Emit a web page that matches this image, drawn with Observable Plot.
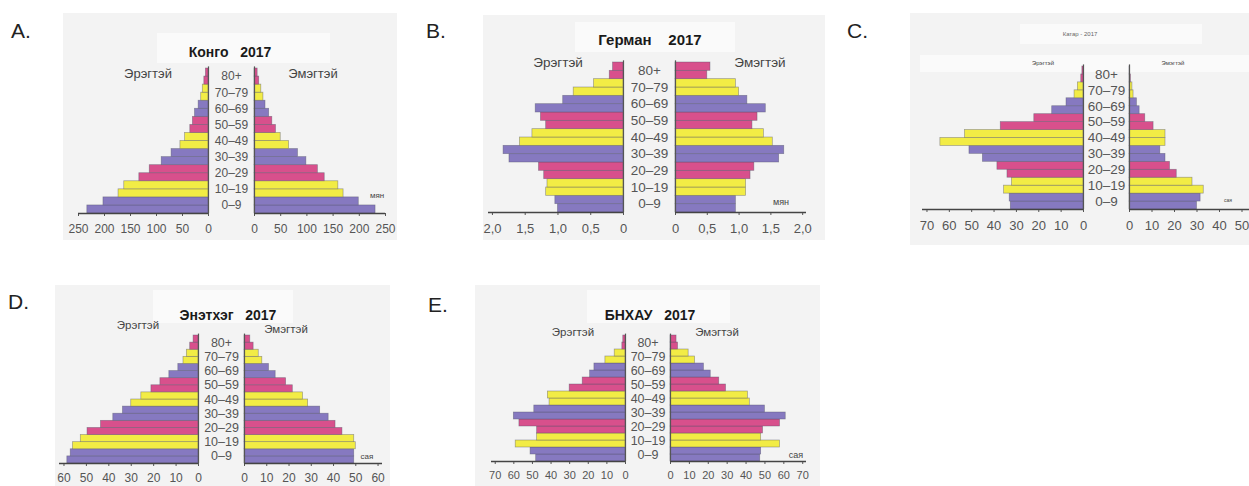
<!DOCTYPE html>
<html><head><meta charset="utf-8">
<script src="https://cdn.jsdelivr.net/npm/d3@7"></script>
<script src="https://cdn.jsdelivr.net/npm/@observablehq/plot@0.6"></script>
<style>
body{margin:0;background:#fff;font-family:"Liberation Sans",Arial,sans-serif;}
#root{position:relative;width:1249px;height:486px;overflow:hidden;background:#fff;}
.panel{position:absolute;background:#f3f3f3;}
.box{position:absolute;background:#fafafa;}
.letter{position:absolute;font-size:21px;line-height:1;color:#222;}
.title{position:absolute;font-weight:bold;color:#1a1a1a;white-space:pre;transform:translate(-50%,-50%);line-height:1;}
.lab{position:absolute;color:#444;white-space:pre;transform:translate(-50%,-50%);line-height:1;}
.plot{position:absolute;overflow:visible;}
</style></head><body><div id="root"></div>
<script>
// ---- data (bars from youngest to oldest) ----
const ages = ["0–4","5–9","10–14","15–19","20–24","25–29","30–34","35–39","40–44","45–49","50–54","55–59","60–64","65–69","70–74","75–79","80–84","85+"];
const groups = ["0–9","10–19","20–29","30–39","40–49","50–59","60–69","70–79","80+"];
const groupColors = ["#8679c0","#f2ec45","#d8508c","#8679c0","#f2ec45","#d8508c","#8679c0","#f2ec45","#d8508c"];
const maleLabel = "Эрэгтэй", femaleLabel = "Эмэгтэй";

const congoMale   = [233,202,173,162,133,113,90,71,54,45,35,30,26,19,14,11,8,5];
const congoFemale = [231,199,170,160,134,121,99,83,66,50,41,34,28,21,17,13,9,6];
const congoTicks  = [0,50,100,150,200,250];

const germanyMale   = [1.00,1.04,1.18,1.16,1.21,1.29,1.74,1.83,1.58,1.39,1.18,1.26,1.34,0.92,0.76,0.45,0.21,0.16];
const germanyFemale = [0.95,0.95,1.11,1.11,1.18,1.24,1.63,1.71,1.53,1.39,1.21,1.29,1.42,1.13,1.00,0.95,0.50,0.55];
const germanyTicks  = [0,0.5,1.0,1.5,2.0];

const qatarMale   = [32.5,33,35.5,32,34,38.5,45,51,64,53,37,22,14,7.6,4,2.5,1,0.5];
const qatarFemale = [30,31.6,33,28,21,18,16,13.7,16,16,10.7,7,4.5,3.3,1.8,1.3,0.6,0.3];
const qatarMaleTicks   = [0,10,20,30,40,50,60,70];
const qatarFemaleTicks = [0,10,20,30,40,50];

const indiaMale   = [58.5,57,56,52.5,49.5,43.5,38,33.7,30,25.5,21,17,13,9,6.7,5.2,3.7,2.2];
const indiaFemale = [49.3,49.3,50,49.3,44,40.9,37.8,34,28.6,26.3,21.7,18.7,14,11,8,6.4,4.1,2.6];
const indiaTicks  = [0,10,20,30,40,50,60];

const chinaMale   = [48,51,59,47.5,47.5,57,60,49,40.8,41.7,30,23,19,16.7,10.8,5.8,1.7,1.2];
const chinaFemale = [47.5,48,58,48,49,58,61,50,42,41,29.4,25.8,21.3,17.7,13,9.6,4,3.2];
const chinaTicks  = [0,10,20,30,40,50,60,70];

// ---- layout helpers ----
const root = document.getElementById("root");
function el(cls, text, css) {
  const d = document.createElement("div");
  d.className = cls; d.textContent = text;
  Object.assign(d.style, css);
  root.appendChild(d); return d;
}
function place(svg, left, top) {
  svg.classList.add("plot");
  svg.style.left = left + "px"; svg.style.top = top + "px";
  root.appendChild(svg);
}

function pyramid(p) {
  const rows = ages.map((a, i) => ({age: a, idx: i, group: groups[Math.floor(i / 2)], male: p.male[i], female: p.female[i]}));
  const mt = 3, mb = 30;
  const H = p.bottom - p.top + mt + mb;
  const common = {
    height: H, marginTop: mt, marginBottom: mb,
    y: {domain: [0, 18], axis: null},
    color: {domain: groups, range: groupColors},
    style: {background: "transparent", color: "#555", fontSize: p.tickFont + "px", fontFamily: "Liberation Sans, Arial, sans-serif", overflow: "visible"}
  };
  const barStyle = {fill: "group", stroke: "#55556a", strokeOpacity: 0.55, strokeWidth: 0.7};
  // male half
  const mL = 16, mR = 2;
  const maleW = p.maleRange + mL + mR;
  const male = Plot.plot({
    ...common, width: maleW, marginLeft: mL, marginRight: mR,
    x: {domain: [0, p.maleMax], reverse: true, ticks: p.maleTicks, tickFormat: p.fmt, tickSize: 3, tickPadding: p.pad, label: null},
    marks: [
      Plot.rect(rows, {x1: () => 0, x2: "male", y1: "idx", y2: d => d.idx + 1, ...barStyle}),
      Plot.ruleY([0], {x1: () => 0, x2: () => p.maleMax, stroke: "#444", strokeWidth: 1.6}),
      Plot.ruleX([0], {y1: () => 0, y2: () => 18.2, stroke: "#555", strokeWidth: 1.2})
    ]
  });
  place(male, p.zeroM - (maleW - mR), p.top - mt);
  // female half, age labels in its left margin
  const gap = p.zeroF - p.zeroM;
  const fR = 4;
  const femaleW = p.femaleRange + gap + fR;
  const female = Plot.plot({
    ...common, width: femaleW, marginLeft: gap, marginRight: fR,
    x: {domain: [0, p.femaleMax], ticks: p.femaleTicks, tickFormat: p.fmt, tickSize: 3, tickPadding: p.pad, label: null},
    marks: [
      Plot.rect(rows, {x1: () => 0, x2: "female", y1: "idx", y2: d => d.idx + 1, ...barStyle}),
      Plot.ruleY([0], {x1: () => 0, x2: () => p.femaleMax, stroke: "#444", strokeWidth: 1.6}),
      Plot.ruleX([0], {y1: () => 0, y2: () => 18.2, stroke: "#555", strokeWidth: 1.2}),
      Plot.text(groups, {frameAnchor: "left", y: (d, i) => 2 * i + 1, text: d => d, dx: -gap / 2, textAnchor: "middle", fontSize: p.ageFont, fill: "#555"})
    ]
  });
  place(female, p.zeroM, p.top - mt);
}

const fmtInt = d => String(d);
const fmtComma = d => d === 0 ? "0" : d.toFixed(1).replace(".", ",");

// ---- panels ----
el("panel", "", {left: "63px", top: "13px", width: "334px", height: "227px"});
el("panel", "", {left: "483px", top: "15px", width: "342px", height: "225px"});
el("panel", "", {left: "910px", top: "13px", width: "345px", height: "232px"});
el("panel", "", {left: "55px", top: "285px", width: "335px", height: "210px"});
el("panel", "", {left: "475px", top: "285px", width: "345px", height: "210px"});
el("box", "", {left: "157px", top: "33px", width: "173px", height: "30px"});
el("box", "", {left: "575px", top: "22px", width: "160px", height: "30px"});
el("box", "", {left: "1020px", top: "24px", width: "182px", height: "20px"});
el("box", "", {left: "920px", top: "55px", width: "330px", height: "17px"});
el("box", "", {left: "153px", top: "290px", width: "140px", height: "33px"});
el("box", "", {left: "587px", top: "290px", width: "143px", height: "33px"});

// letters
el("letter", "A.", {left: "11px", top: "20px"});
el("letter", "B.", {left: "426px", top: "20px"});
el("letter", "C.", {left: "847px", top: "20px"});
el("letter", "D.", {left: "8px", top: "291px"});
el("letter", "E.", {left: "428px", top: "294px"});

// titles
el("title", "Конго   2017", {left: "230px", top: "52px", fontSize: "14px"});
el("title", "Герман    2017", {left: "650px", top: "39px", fontSize: "15px"});
el("lab", "Катар - 2017", {left: "1080px", top: "34px", fontSize: "6px", color: "#666"});
el("title", "Энэтхэг   2017", {left: "228px", top: "315px", fontSize: "14px"});
el("title", "БНХАУ   2017", {left: "650px", top: "315px", fontSize: "14px"});

// sex labels
el("lab", maleLabel, {left: "148px", top: "73px", fontSize: "13px"});
el("lab", femaleLabel, {left: "313px", top: "73px", fontSize: "13px"});
el("lab", maleLabel, {left: "558px", top: "63px", fontSize: "13.5px"});
el("lab", femaleLabel, {left: "760px", top: "63px", fontSize: "13.5px"});
el("lab", maleLabel, {left: "1043px", top: "63px", fontSize: "6px"});
el("lab", femaleLabel, {left: "1173px", top: "63px", fontSize: "6px"});
el("lab", maleLabel, {left: "138px", top: "326px", fontSize: "11.5px"});
el("lab", femaleLabel, {left: "286px", top: "330px", fontSize: "11.5px"});
el("lab", maleLabel, {left: "573px", top: "333px", fontSize: "11.5px"});
el("lab", femaleLabel, {left: "717px", top: "333px", fontSize: "11.5px"});

// unit labels
el("lab", "мян", {left: "377px", top: "196px", fontSize: "8px"});
el("lab", "мян", {left: "781px", top: "202px", fontSize: "9px"});
el("lab", "сая", {left: "1228px", top: "200px", fontSize: "5px"});
el("lab", "сая", {left: "367px", top: "457px", fontSize: "8px"});
el("lab", "сая", {left: "796px", top: "455px", fontSize: "9px"});

// ---- pyramids ----
pyramid({male: congoMale, female: congoFemale, zeroM: 208, zeroF: 254, maleRange: 130, femaleRange: 131,
  maleMax: 250, femaleMax: 250, maleTicks: congoTicks, femaleTicks: congoTicks, fmt: fmtInt,
  top: 68, bottom: 213, tickFont: 12, ageFont: 12, pad: 8});
pyramid({male: germanyMale, female: germanyFemale, zeroM: 623, zeroF: 675, maleRange: 135, femaleRange: 131,
  maleMax: 2.06, femaleMax: 2.06, maleTicks: germanyTicks, femaleTicks: germanyTicks, fmt: fmtComma,
  top: 62, bottom: 212, tickFont: 13, ageFont: 13.5, pad: 8});
pyramid({male: qatarMale, female: qatarFemale, zeroM: 1083, zeroF: 1129, maleRange: 161, femaleRange: 135,
  maleMax: 72, femaleMax: 60, maleTicks: qatarMaleTicks, femaleTicks: qatarFemaleTicks, fmt: fmtInt,
  top: 66, bottom: 209, tickFont: 13, ageFont: 13.5, pad: 8});
pyramid({male: indiaMale, female: indiaFemale, zeroM: 198, zeroF: 244, maleRange: 139, femaleRange: 138,
  maleMax: 62, femaleMax: 62, maleTicks: indiaTicks, femaleTicks: indiaTicks, fmt: fmtInt,
  top: 335, bottom: 463, tickFont: 12, ageFont: 12.5, pad: 7});
pyramid({male: chinaMale, female: chinaFemale, zeroM: 625, zeroF: 670, maleRange: 134, femaleRange: 136,
  maleMax: 72, femaleMax: 72, maleTicks: chinaTicks, femaleTicks: chinaTicks, fmt: fmtInt,
  top: 335, bottom: 461, tickFont: 11, ageFont: 12.5, pad: 7});
</script></body></html>
